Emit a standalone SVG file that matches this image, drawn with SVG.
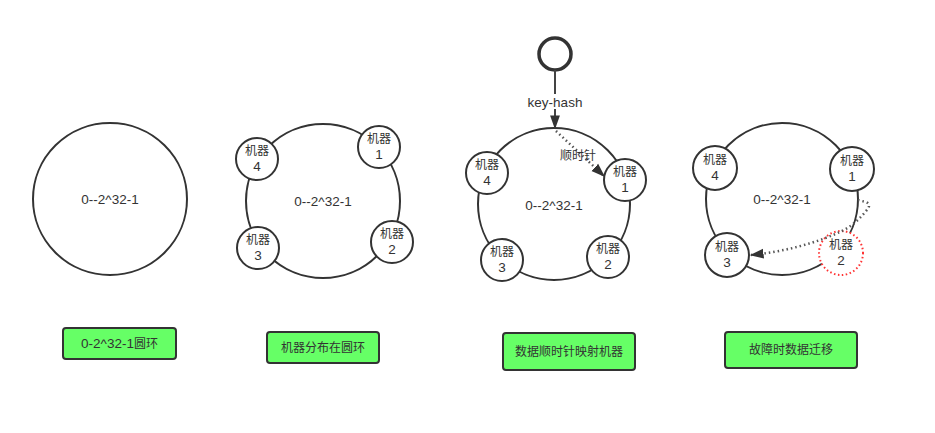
<svg xmlns="http://www.w3.org/2000/svg" width="935" height="433" viewBox="0 0 935 433">
<style>
.ring{fill:#fff;stroke:#333;stroke-width:2}
.m{fill:#fff;stroke:#333;stroke-width:2}
.t{font-family:"Liberation Sans","Noto Sans CJK SC",sans-serif;font-size:12px;fill:#333;text-anchor:middle}
.l{font-size:13.5px}
.lbl{fill:#66ff66;stroke:#333;stroke-width:2}
.c{fill:none;stroke:#444;stroke-width:2}
.dot{fill:none;stroke:#555;stroke-width:2.5;stroke-dasharray:1.5 3}
</style>
<defs>
<marker id="ah2" viewBox="0 0 10 10" refX="9" refY="5" markerWidth="14" markerHeight="14" orient="auto" markerUnits="userSpaceOnUse">
<path d="M0,1.5 L10,5 L0,8.5 z" fill="#333"/>
</marker>
</defs>

<!-- Panel 1 -->
<g id="ring1"><ellipse class="ring" cx="110" cy="199" rx="77" ry="76"/><text class="t l" x="110" y="204">0--2^32-1</text></g>
<g id="label1"><rect class="lbl" x="63" y="328" width="113" height="31" rx="3"/><text class="t" x="119.5" y="348"><tspan class="l">0-2^32-1</tspan>圆环</text></g>

<!-- Panel 2 -->
<g id="ring2"><circle class="ring" cx="323" cy="201" r="77"/><text class="t l" x="323" y="206">0--2^32-1</text></g>
<g id="p2m4"><circle class="m" cx="257" cy="159" r="21"/><text class="t" x="257" y="155">机器</text><text class="t l" x="257" y="171">4</text></g>
<g id="p2m1"><circle class="m" cx="379" cy="147" r="21"/><text class="t" x="379" y="143">机器</text><text class="t l" x="379" y="159">1</text></g>
<g id="p2m3"><circle class="m" cx="258" cy="248" r="21"/><text class="t" x="258" y="244">机器</text><text class="t l" x="258" y="260">3</text></g>
<g id="p2m2"><circle class="m" cx="392" cy="242" r="21"/><text class="t" x="392" y="238">机器</text><text class="t l" x="392" y="254">2</text></g>
<g id="label2"><rect class="lbl" x="267" y="332" width="112" height="31" rx="3"/><text class="t" x="323" y="352">机器分布在圆环</text></g>

<!-- Panel 3 -->
<g id="ring3"><circle class="ring" cx="554" cy="204" r="76"/><text class="t l" x="554" y="210">0--2^32-1</text></g>
<g id="key"><circle cx="555" cy="54" r="16" fill="#fff" stroke="#333" stroke-width="3.5"/></g>
<g id="p3m4"><circle class="m" cx="487" cy="173" r="21"/><text class="t" x="487" y="169">机器</text><text class="t l" x="487" y="185">4</text></g>
<g id="p3m1"><circle class="m" cx="625" cy="180" r="21"/><text class="t" x="625" y="176">机器</text><text class="t l" x="625" y="192">1</text></g>
<g id="p3m3"><circle class="m" cx="502" cy="260" r="21"/><text class="t" x="502" y="256">机器</text><text class="t l" x="502" y="272">3</text></g>
<g id="p3m2"><circle class="m" cx="608" cy="257" r="21"/><text class="t" x="608" y="253">机器</text><text class="t l" x="608" y="269">2</text></g>
<g id="label3"><rect class="lbl" x="503" y="333" width="132" height="37" rx="3"/><text class="t" x="569" y="356">数据顺时针映射机器</text></g>

<!-- Panel 4 -->
<g id="ring4"><circle class="ring" cx="782" cy="199" r="76"/><text class="t l" x="782" y="204">0--2^32-1</text></g>
<g id="p4m4"><circle class="m" cx="715" cy="168" r="22"/><text class="t" x="715" y="164">机器</text><text class="t l" x="715" y="180">4</text></g>
<g id="p4m1"><circle class="m" cx="852" cy="169" r="22"/><text class="t" x="852" y="165">机器</text><text class="t l" x="852" y="181">1</text></g>
<g id="p4m3"><circle class="m" cx="727" cy="255" r="22"/><text class="t" x="727" y="251">机器</text><text class="t l" x="727" y="267">3</text></g>
<g id="p4m2"><circle cx="841" cy="253" r="22" fill="#fff" stroke="#ff3333" stroke-width="2" stroke-dasharray="1.5 2.5"/><text class="t" x="841" y="249">机器</text><text class="t l" x="841" y="265">2</text></g>
<g id="label4"><rect class="lbl" x="725" y="332" width="132" height="36" rx="3"/><text class="t" x="791" y="354">故障时数据迁移</text></g>

<!-- Connectors -->
<g id="connectors">
<line class="c" x1="555" y1="70" x2="555" y2="128" marker-end="url(#ah2)"/>
<rect x="526" y="94" width="58" height="15" fill="#fff"/>
<text class="t l" x="555" y="107">key-hash</text>
<path class="dot" d="M556,131 L604,176" marker-end="url(#ah2)"/>
<text class="t" x="578" y="160">顺时针</text>
<path class="dot" d="M858,200 L866,202 Q872,205 866,211 Q855,225 840,232 Q800,250 751,255" marker-end="url(#ah2)"/>
</g>
</svg>
